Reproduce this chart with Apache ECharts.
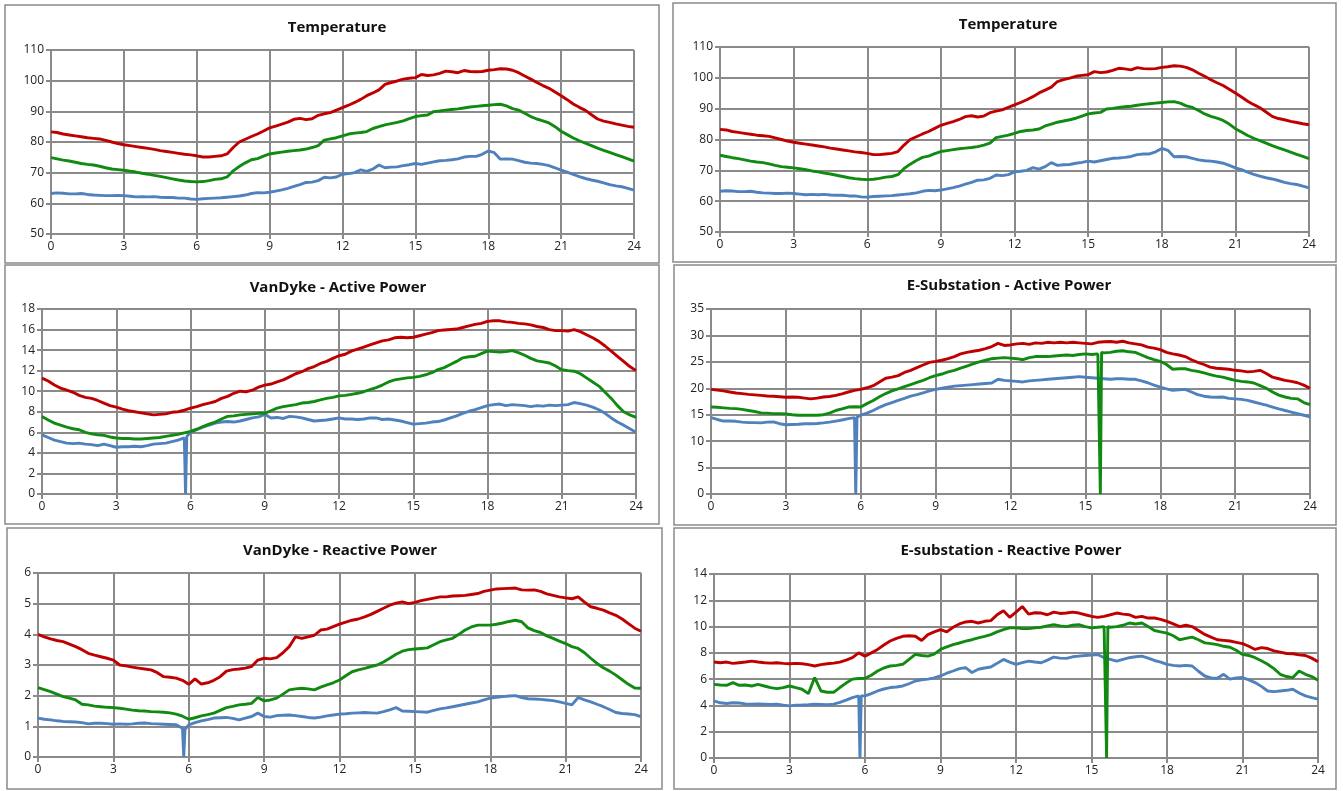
<!DOCTYPE html>
<html><head><meta charset="utf-8">
<script src="https://cdn.jsdelivr.net/npm/echarts@6/dist/echarts.min.js"></script>
<style>html,body{margin:0;padding:0;background:#fff;}#c{width:1343px;height:791px;}</style>
</head><body><div id="c"></div>
<script>
// ---- x grid (hours, 15-minute steps) ----
const hours = [];
for (let i = 0; i <= 96; i++) hours.push(i / 4);
const xTickLabels = [0, 3, 6, 9, 12, 15, 18, 21, 24];

// ---- Temperature ----
const tempRed = [
83.3,83.1,82.6,82.3,82.0,81.7,81.4,81.2,81.0,80.5,80.0,79.5,
79.1,78.8,78.5,78.2,77.9,77.6,77.2,76.9,76.6,76.3,76.0,75.8,
75.5,75.1,75.1,75.3,75.5,76.1,78.2,80.0,80.9,81.8,82.6,83.6,
84.6,85.2,85.8,86.5,87.4,87.7,87.3,87.6,88.7,89.2,89.6,90.4,
91.2,92.0,92.9,93.9,95.1,96.0,97.0,98.8,99.4,99.9,100.5,100.8,
101.0,102.0,101.7,101.9,102.4,103.1,102.9,102.6,103.3,103.0,102.9,103.0,
103.4,103.6,103.9,103.8,103.4,102.6,101.5,100.5,99.4,98.4,97.5,96.3,
95.1,93.8,92.4,91.3,90.3,88.9,87.5,86.8,86.4,85.9,85.5,85.1,
84.8];
const tempGreen = [
74.9,74.5,74.1,73.8,73.4,73.0,72.7,72.5,72.1,71.6,71.2,71.0,
70.8,70.5,70.2,69.8,69.5,69.1,68.8,68.4,68.0,67.6,67.3,67.1,
67.0,67.1,67.4,67.8,68.0,68.6,70.6,72.0,73.2,74.2,74.6,75.4,
76.1,76.4,76.7,77.0,77.2,77.4,77.7,78.2,78.8,80.6,81.0,81.4,
82.0,82.6,82.9,83.1,83.4,84.4,85.0,85.6,86.0,86.4,86.9,87.6,
88.3,88.6,88.8,89.9,90.1,90.4,90.6,90.8,91.1,91.4,91.6,91.8,
92.0,92.2,92.3,91.8,90.9,90.4,89.4,88.3,87.5,86.9,86.2,85.0,
83.5,82.4,81.3,80.4,79.6,78.8,78.0,77.3,76.6,75.9,75.2,74.5,
73.8];
const tempBlue = [
63.2,63.4,63.3,63.1,63.1,63.2,62.9,62.7,62.6,62.5,62.5,62.6,
62.5,62.3,62.1,62.2,62.1,62.2,62.0,61.9,61.9,61.7,61.7,61.4,
61.3,61.5,61.6,61.7,61.8,62.0,62.2,62.4,62.7,63.2,63.5,63.4,
63.6,64.0,64.4,64.9,65.5,66.1,66.8,66.9,67.4,68.5,68.3,68.6,
69.5,69.7,70.0,70.9,70.4,71.2,72.5,71.6,71.8,71.9,72.3,72.6,
73.0,72.7,73.1,73.5,73.9,74.0,74.2,74.5,75.1,75.3,75.3,76.0,
77.1,76.5,74.4,74.5,74.4,73.9,73.4,73.1,73.0,72.7,72.3,71.6,
70.8,70.2,69.4,68.7,68.1,67.6,67.2,66.7,66.1,65.7,65.4,64.9,
64.3];

// ---- VanDyke - Active Power ----
const vdActRed = [
11.28,11.0,10.6,10.3,10.1,9.9,9.6,9.4,9.3,9.1,8.85,8.6,
8.45,8.25,8.1,8.0,7.9,7.8,7.7,7.75,7.8,7.95,8.0,8.15,
8.35,8.5,8.7,8.85,9.0,9.3,9.5,9.8,10.0,9.95,10.1,10.4,
10.6,10.7,10.9,11.1,11.4,11.7,11.9,12.2,12.4,12.7,12.9,13.2,
13.45,13.6,13.9,14.1,14.3,14.5,14.7,14.9,15.0,15.2,15.25,15.2,
15.25,15.4,15.55,15.7,15.9,15.95,16.0,16.05,16.2,16.35,16.5,16.6,
16.8,16.85,16.85,16.75,16.7,16.6,16.55,16.45,16.3,16.2,16.0,15.9,
15.9,15.85,16.0,15.8,15.5,15.2,14.85,14.4,13.9,13.4,12.9,12.4,
12.0];
const vdActGreen = [
7.55,7.2,6.9,6.7,6.5,6.35,6.25,6.0,5.85,5.75,5.7,5.55,
5.45,5.4,5.4,5.35,5.35,5.4,5.45,5.5,5.6,5.7,5.8,5.95,
6.1,6.3,6.55,6.8,7.0,7.3,7.55,7.6,7.7,7.75,7.8,7.85,
7.85,8.1,8.35,8.5,8.6,8.7,8.85,8.9,9.0,9.15,9.3,9.4,
9.55,9.6,9.7,9.8,9.95,10.15,10.35,10.6,10.9,11.1,11.2,11.3,
11.35,11.45,11.6,11.8,12.1,12.3,12.6,12.9,13.25,13.35,13.4,13.65,
13.9,13.85,13.8,13.85,13.95,13.75,13.5,13.2,12.95,12.85,12.75,12.45,
12.1,12.0,11.95,11.7,11.3,10.9,10.5,9.9,9.3,8.6,8.0,7.7,
7.45];
const vdActBlue = [
5.75,5.5,5.25,5.1,4.95,4.9,4.95,4.85,4.8,4.7,4.85,4.7,
4.55,4.6,4.6,4.65,4.6,4.7,4.85,4.9,4.95,5.1,5.25,5.45,
6.0,6.25,6.5,6.7,6.9,7.0,7.05,7.0,7.1,7.25,7.4,7.5,
7.75,7.4,7.45,7.35,7.55,7.5,7.4,7.25,7.1,7.15,7.2,7.3,
7.4,7.3,7.3,7.25,7.3,7.4,7.4,7.25,7.3,7.2,7.1,6.95,
6.8,6.85,6.9,7.0,7.05,7.2,7.4,7.6,7.85,8.05,8.2,8.4,
8.6,8.7,8.75,8.6,8.7,8.65,8.6,8.5,8.6,8.55,8.65,8.6,
8.65,8.7,8.9,8.8,8.65,8.45,8.2,7.85,7.4,7.0,6.7,6.35,
6.0];
const vdActBlueDip = [[5.8, 0], [5.85, 5.6]];

// ---- E-Substation - Active Power ----
const esActRed = [
19.8,19.65,19.5,19.3,19.1,19.0,18.85,18.75,18.65,18.55,18.5,18.4,
18.3,18.35,18.3,18.15,18.0,18.15,18.35,18.45,18.65,18.95,19.3,19.6,
19.8,20.1,20.5,21.2,21.9,22.1,22.4,23.0,23.4,23.9,24.4,24.9,
25.1,25.3,25.6,26.0,26.5,26.8,27.0,27.2,27.5,27.9,28.5,28.1,
28.2,28.4,28.5,28.3,28.6,28.5,28.7,28.6,28.7,28.6,28.7,28.6,
28.5,28.4,28.7,28.8,28.85,28.7,28.9,28.6,28.4,28.2,27.8,27.6,
27.3,26.8,26.5,26.3,26.0,25.4,24.9,24.5,24.0,23.8,23.7,23.6,
23.4,23.3,23.1,23.2,23.4,22.8,22.1,21.8,21.5,21.3,21.05,20.6,
20.0];
const esActGreen = [
16.45,16.4,16.3,16.2,16.15,16.0,15.8,15.6,15.35,15.3,15.2,15.2,
15.15,15.0,14.9,14.9,14.9,14.9,15.0,15.3,15.8,16.1,16.45,16.5,
16.45,17.1,17.7,18.4,19.0,19.5,19.9,20.3,20.7,21.1,21.5,22.0,
22.4,22.7,23.1,23.4,23.8,24.2,24.6,25.0,25.3,25.6,25.7,25.8,
25.7,25.6,25.4,25.8,26.0,26.0,26.0,26.1,26.2,26.3,26.2,26.4,
26.5,26.4,26.5,26.7,26.8,27.0,27.1,26.9,26.8,26.3,25.8,25.4,
25.1,24.5,23.6,23.7,23.7,23.4,23.2,22.9,22.6,22.3,22.1,21.8,
21.5,21.3,21.2,21.0,20.5,20.0,19.3,18.7,18.35,18.1,18.0,17.3,
16.9];
const esActGreenDip = [[15.55, 26.5], [15.6, 0], [15.65, 26.8]];
const esActBlue = [
14.45,14.1,13.8,13.8,13.75,13.6,13.5,13.5,13.45,13.6,13.65,13.3,
13.1,13.15,13.2,13.3,13.3,13.35,13.45,13.6,13.8,14.0,14.25,14.45,
14.9,15.3,15.8,16.4,16.9,17.3,17.7,18.1,18.5,18.8,19.15,19.5,
19.8,20.0,20.2,20.4,20.5,20.6,20.7,20.8,20.9,21.0,21.7,21.5,
21.4,21.3,21.2,21.4,21.5,21.6,21.7,21.8,21.9,22.0,22.1,22.2,
22.1,22.0,21.9,21.8,21.7,21.8,21.8,21.7,21.7,21.4,21.05,20.6,
20.2,19.9,19.6,19.7,19.8,19.3,18.8,18.5,18.35,18.3,18.35,18.1,
18.0,17.9,17.7,17.4,17.1,16.8,16.45,16.1,15.8,15.5,15.2,14.9,
14.6];
const esActBlueDip = [[5.8, 0], [5.85, 14.5]];

// ---- VanDyke - Reactive Power ----
const vdReRed = [
4.0,3.92,3.85,3.8,3.76,3.68,3.6,3.5,3.38,3.32,3.27,3.22,
3.16,3.0,2.97,2.93,2.9,2.87,2.84,2.75,2.62,2.6,2.57,2.5,
2.37,2.55,2.38,2.42,2.5,2.62,2.8,2.85,2.87,2.9,2.95,3.16,
3.22,3.2,3.24,3.4,3.6,3.92,3.87,3.92,3.97,4.14,4.17,4.25,
4.33,4.4,4.46,4.5,4.57,4.65,4.75,4.85,4.95,5.02,5.06,5.0,
5.04,5.1,5.14,5.18,5.22,5.22,5.25,5.26,5.27,5.3,5.33,5.4,
5.44,5.48,5.49,5.5,5.51,5.45,5.44,5.45,5.4,5.32,5.27,5.22,
5.19,5.16,5.22,5.05,4.9,4.85,4.79,4.7,4.62,4.5,4.35,4.2,
4.1];
const vdReGreen = [
2.26,2.2,2.13,2.05,1.97,1.92,1.86,1.72,1.7,1.66,1.64,1.62,
1.61,1.59,1.56,1.53,1.51,1.5,1.48,1.47,1.46,1.44,1.4,1.33,
1.23,1.28,1.34,1.38,1.43,1.52,1.61,1.65,1.7,1.72,1.75,1.94,
1.83,1.86,1.92,2.05,2.19,2.22,2.24,2.22,2.19,2.28,2.35,2.42,
2.51,2.65,2.78,2.84,2.89,2.95,3.0,3.1,3.22,3.35,3.45,3.5,
3.52,3.54,3.56,3.66,3.76,3.82,3.87,4.0,4.14,4.24,4.3,4.3,
4.3,4.33,4.37,4.42,4.46,4.41,4.21,4.12,4.06,3.95,3.87,3.78,
3.7,3.6,3.54,3.4,3.22,3.05,2.91,2.8,2.67,2.52,2.37,2.25,
2.24];
const vdReBlue = [
1.27,1.23,1.21,1.18,1.16,1.15,1.14,1.12,1.08,1.1,1.1,1.09,
1.07,1.08,1.07,1.08,1.1,1.11,1.09,1.08,1.07,1.06,1.05,0.94,
1.05,1.12,1.18,1.22,1.27,1.28,1.29,1.26,1.21,1.27,1.32,1.43,
1.32,1.3,1.35,1.36,1.37,1.35,1.32,1.29,1.27,1.3,1.34,1.37,
1.4,1.41,1.43,1.44,1.45,1.44,1.43,1.48,1.54,1.61,1.5,1.49,
1.48,1.47,1.46,1.52,1.57,1.6,1.64,1.68,1.72,1.76,1.8,1.86,
1.92,1.95,1.97,1.99,2.0,1.94,1.9,1.89,1.88,1.86,1.84,1.8,
1.75,1.7,1.94,1.86,1.8,1.72,1.64,1.55,1.45,1.42,1.4,1.38,
1.32];
const vdReBlueDip = [[5.8, 0], [5.85, 0.9]];

// ---- E-substation - Reactive Power ----
const esReRed = [
7.3,7.25,7.3,7.2,7.25,7.3,7.37,7.3,7.25,7.22,7.25,7.2,
7.17,7.2,7.17,7.1,7.0,7.1,7.17,7.22,7.3,7.45,7.63,8.0,
7.75,8.0,8.26,8.6,8.9,9.1,9.26,9.3,9.26,8.94,9.39,9.6,
9.77,9.6,9.95,10.2,10.35,10.4,10.27,10.4,10.45,10.9,11.2,10.7,
11.1,11.53,10.95,11.05,11.03,10.9,11.1,11.0,11.03,11.1,11.03,10.9,
10.78,10.7,10.78,10.9,11.03,10.95,10.9,10.7,10.78,10.65,10.65,10.55,
10.4,10.2,10.0,10.1,10.0,9.7,9.4,9.2,9.0,8.95,8.9,8.8,
8.7,8.5,8.26,8.4,8.33,8.15,8.05,7.95,7.93,7.85,7.8,7.6,
7.33];
const esReGreen = [
5.6,5.55,5.53,5.74,5.53,5.55,5.48,5.6,5.48,5.35,5.28,5.35,
5.48,5.35,5.23,4.9,6.12,5.1,5.0,5.0,5.36,5.7,6.0,6.05,
6.07,6.3,6.62,6.85,7.0,7.05,7.13,7.5,7.88,7.8,7.75,7.9,
8.26,8.45,8.63,8.75,8.89,9.0,9.14,9.25,9.39,9.6,9.77,9.9,
9.9,9.85,9.84,9.9,9.95,10.05,10.15,10.05,10.0,10.1,10.15,10.0,
9.9,9.95,10.0,9.95,10.0,10.1,10.27,10.2,10.27,10.0,9.7,9.6,
9.5,9.3,9.0,9.1,9.2,9.0,8.76,8.7,8.63,8.5,8.43,8.2,
7.88,7.8,7.63,7.4,7.13,6.8,6.37,6.2,6.12,6.62,6.37,6.2,
5.92];
const esReGreenDip = [[15.55, 10.0], [15.6, 0], [15.65, 10.0]];
const esReBlue = [
4.35,4.2,4.15,4.2,4.18,4.12,4.1,4.12,4.1,4.08,4.1,4.02,
3.97,4.02,4.03,4.05,4.1,4.08,4.05,4.1,4.23,4.4,4.6,4.73,
4.73,4.9,5.1,5.25,5.36,5.4,5.48,5.65,5.86,5.95,6.0,6.1,
6.24,6.45,6.62,6.8,6.87,6.5,6.75,6.85,6.92,7.2,7.5,7.3,
7.12,7.25,7.37,7.3,7.25,7.45,7.68,7.6,7.58,7.7,7.75,7.8,
7.83,7.88,7.63,7.5,7.37,7.5,7.63,7.7,7.75,7.6,7.42,7.3,
7.12,7.05,7.0,7.05,7.0,6.6,6.24,6.1,6.07,6.37,6.0,6.1,
6.12,5.95,5.74,5.45,5.1,5.05,5.1,5.15,5.23,4.95,4.73,4.6,
4.48];
const esReBlueDip = [[5.8, 0], [5.85, 4.73]];

// ---- helpers ----
function pts(vals, extra) {
  const a = hours.map((h, i) => [h, vals[i]]);
  if (extra) extra.forEach(p => a.push(p));
  a.sort((p, q) => p[0] - q[0]);
  return a;
}
const RED = '#C00000', GREEN = '#108A10', BLUE = '#4F81BD';
const GRID = '#8A8A8A';
const FONT = 'Open Sans';

const panels = [
  {title: 'Temperature', cx: 332, ty: 15, box: [5, 5, 654, 258], grid: [51, 50, 583, 184], min: 50, max: 110, step: 10,
   s: [[tempBlue], [tempGreen], [tempRed]]},
  {title: 'Temperature', cx: 1003, ty: 12, box: [673, 3, 663, 259], grid: [720, 47, 589, 185], min: 50, max: 110, step: 10,
   s: [[tempBlue], [tempGreen], [tempRed]]},
  {title: 'VanDyke - Active Power', cx: 333, ty: 275, box: [5, 265, 654, 259], grid: [42, 309, 594, 185], min: 0, max: 18, step: 2,
   s: [[vdActBlue, vdActBlueDip], [vdActGreen], [vdActRed]]},
  {title: 'E-Substation - Active Power', cx: 1004, ty: 273, box: [674, 265, 662, 260], grid: [711, 309, 599, 185], min: 0, max: 35, step: 5,
   s: [[esActBlue, esActBlueDip], [esActGreen, esActGreenDip], [esActRed]]},
  {title: 'VanDyke - Reactive Power', cx: 335, ty: 538, box: [7, 528, 655, 261], grid: [38, 573, 603, 184], min: 0, max: 6, step: 1,
   s: [[vdReBlue, vdReBlueDip], [vdReGreen], [vdReRed]]},
  {title: 'E-substation - Reactive Power', cx: 1006, ty: 538, box: [674, 528, 662, 261], grid: [714, 574, 604, 184], min: 0, max: 14, step: 2,
   s: [[esReBlue, esReBlueDip], [esReGreen, esReGreenDip], [esReRed]]}
];

const option = {
  animation: false,
  backgroundColor: '#fff',
  title: [], grid: [], xAxis: [], yAxis: [], series: [], graphic: []
};
const colors = [BLUE, GREEN, RED];
panels.forEach((p, k) => {
  option.graphic.push({type: 'rect', shape: {x: p.box[0], y: p.box[1], width: p.box[2], height: p.box[3]},
    style: {fill: 'none', stroke: '#8A8A8A', lineWidth: 1.5}, silent: true});
  option.title.push({text: p.title, left: p.cx, top: p.ty, textAlign: 'center',
    textStyle: {fontFamily: FONT, fontWeight: 'bold', fontSize: 15, color: '#111'}});
  option.grid.push({left: p.grid[0], top: p.grid[1], width: p.grid[2], height: p.grid[3], containLabel: false});
  option.xAxis.push({type: 'value', gridIndex: k, min: 0, max: 24, interval: 3,
    axisLine: {show: true, lineStyle: {color: GRID, width: 2}},
    axisTick: {show: true, length: 5, lineStyle: {color: GRID, width: 2}},
    splitLine: {show: true, lineStyle: {color: GRID, width: 2}},
    axisLabel: {fontFamily: FONT, fontSize: 12, color: '#222', margin: 7,
      formatter: v => (xTickLabels.indexOf(v) >= 0 ? String(v) : '')}});
  option.yAxis.push({type: 'value', gridIndex: k, min: p.min, max: p.max, interval: p.step,
    axisLine: {show: true, lineStyle: {color: GRID, width: 2}},
    axisTick: {show: true, length: 5, lineStyle: {color: GRID, width: 2}},
    splitLine: {show: true, lineStyle: {color: GRID, width: 2}},
    axisLabel: {fontFamily: FONT, fontSize: 12, color: '#222', margin: 7}});
  p.s.forEach((sd, j) => {
    option.series.push({type: 'line', xAxisIndex: k, yAxisIndex: k, data: pts(sd[0], sd[1]),
      showSymbol: false, symbol: 'none', smooth: false, z: 3 + j,
      lineStyle: {color: colors[j], width: 2.9}, itemStyle: {color: colors[j]}});
  });
});
const chart = echarts.init(document.getElementById('c'), null, {renderer: 'canvas'});
chart.setOption(option);
</script>
</body></html>
